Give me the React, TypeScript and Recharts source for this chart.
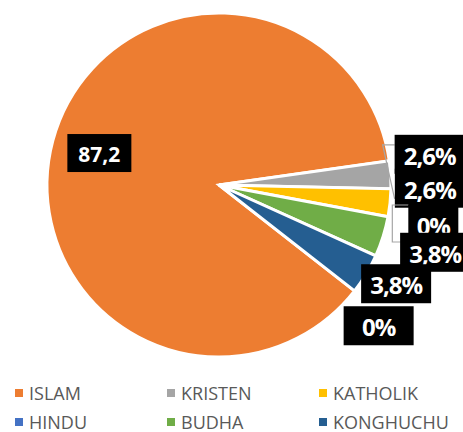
import { PieChart, Pie, Cell, Legend } from "recharts";

const categories = ["ISLAM", "KRISTEN", "KATHOLIK", "HINDU", "BUDHA", "KONGHUCHU", ""];
const values = [87.2, 2.6, 2.6, 0, 3.8, 3.8, 0];
const labelTexts = ["87,2", "2,6%", "2,6%", "0%", "3,8%", "3,8%", "0%"];
const colors = ["#ED7D31", "#A5A5A5", "#FFC000", "#4472C4", "#70AD47", "#255E91", "#A5A5A5"];

const data = categories.map((name, i) => ({ name, value: values[i] }));

// small nudges so the outside labels stack like the original
const LABEL_NUDGE = [
  [0, 0],
  [-3, -18],
  [-2, -19],
  [4, 0],
  [12, 3],
  [-6, -12],
  [-9, 9],
];

const RAD = Math.PI / 180;
const LEADER = "#A6A6A6";

function renderLabel(props: any) {
  const { cx, cy, midAngle, outerRadius, index } = props;
  const inside = index === 0;
  const r = inside ? outerRadius * 0.72 : outerRadius + 42;
  const [dx, dy] = LABEL_NUDGE[index];
  const x = cx + r * Math.cos(-midAngle * RAD) + dx;
  const y = cy + r * Math.sin(-midAngle * RAD) + dy;
  const text = labelTexts[index];
  const w = inside ? 64 : index === 3 ? 50 : 70;
  const h = inside ? 38 : 39;
  const bx = x - w / 2;
  const by = y - h / 2;

  let leader = null;
  if (index === 1) {
    leader = (
      <polyline
        points={`${bx},${by + 10} ${bx - 12},${by + 10} ${bx},${by + 64}`}
        fill="none"
        stroke={LEADER}
        strokeWidth={1.2}
      />
    );
  } else if (index === 3) {
    leader = (
      <polyline
        points={`${bx},${by} ${bx - 16},${by} ${bx - 16},${by + 37} ${bx - 6},${by + 37}`}
        fill="none"
        stroke={LEADER}
        strokeWidth={1.2}
      />
    );
  }

  return (
    <g key={"lbl" + index}>
      {leader}
      <rect x={bx} y={by} width={w} height={h} fill="#000" />
      <text
        x={x}
        y={y + 1}
        textAnchor="middle"
        dominantBaseline="central"
        fill="#fff"
        fontSize={inside ? 21 : 24}
        fontWeight="bold"
        letterSpacing={inside ? 0 : -1}
        fontFamily="'Open Sans', sans-serif"
      >
        {text}
      </text>
    </g>
  );
}

function LegendGrid() {
  const items = categories.filter((c) => c !== "");
  return (
    <div
      style={{
        display: "grid",
        gridTemplateColumns: "152px 152px 152px",
        gridAutoRows: "29px",
        fontFamily: "'Open Sans', sans-serif",
        fontSize: 18,
        color: "#595959",
      }}
    >
      {items.map((name, i) => (
        <div key={name} style={{ display: "flex", alignItems: "center" }}>
          <span
            style={{
              width: 8,
              height: 8,
              background: colors[i],
              marginRight: 6,
              display: "inline-block",
            }}
          />
          <span>{name}</span>
        </div>
      ))}
    </div>
  );
}

export default function App() {
  return (
    <div style={{ position: "absolute", left: 0, top: 0, background: "#fff" }}>
      <PieChart width={463} height={432}>
        <Pie
          data={data}
          dataKey="value"
          nameKey="name"
          cx={214}
          cy={180}
          outerRadius={172}
          startAngle={-38}
          endAngle={-398}
          stroke="#fff"
          strokeWidth={3}
          label={renderLabel}
          labelLine={false}
          isAnimationActive={false}
        >
          {data.map((d, i) => (
            <Cell key={i} fill={colors[i]} />
          ))}
        </Pie>
        <Legend
          content={() => <LegendGrid />}
          wrapperStyle={{ position: "absolute", left: 15, top: 378, width: 460 }}
        />
      </PieChart>
    </div>
  );
}
